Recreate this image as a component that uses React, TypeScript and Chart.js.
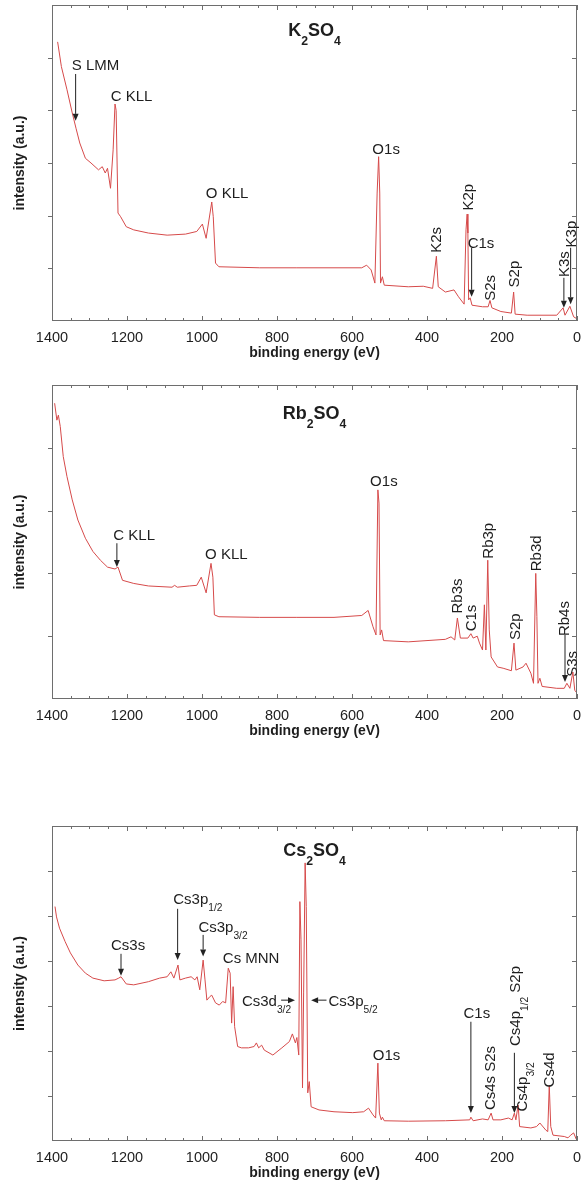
import { useEffect, useRef } from 'react';
import { Chart, registerables } from 'chart.js';

Chart.register(...registerables);

const FONT = '"Liberation Sans", Arial, Helvetica, sans-serif';
const LINE_COLOR = '#d64a4a';
const TEXT_COLOR = '#1e1e1e';
const FRAME_COLOR = '#6e6e6e';

// x tick labels (binding energy, eV)
const energyTicks = [1400, 1200, 1000, 800, 600, 400, 200, 0];

// ---------- K2SO4 spectrum ----------
const k2so4Energy = [
  1385, 1375, 1360, 1346, 1336, 1326, 1311, 1296, 1276, 1266,
  1258, 1252, 1244, 1237, 1232, 1229, 1224, 1217, 1202, 1182,
  1143, 1093, 1044, 1014, 999, 989, 974, 970, 964, 955,
  846, 747, 648, 574, 561, 549, 539, 533, 529, 526,
  524, 519, 514, 450, 410, 385, 375, 370, 351, 328,
  316, 301, 296, 293, 291, 289, 285, 280, 252, 237,
  232, 227, 203, 175, 169, 165, 133, 54, 37, 32,
  19, 9, 2,
];
const k2so4Intensity = [
  5.30, 4.83, 4.39, 3.95, 3.66, 3.38, 3.09, 3.00, 2.87, 2.93,
  2.81, 2.90, 2.52, 3.25, 4.12, 4.00, 2.05, 1.98, 1.79, 1.73,
  1.67, 1.63, 1.65, 1.70, 1.84, 1.57, 2.26, 1.98, 1.10, 1.03,
  1.01, 1.01, 1.01, 1.01, 1.06, 0.97, 0.72, 2.43, 3.12, 2.43,
  0.72, 0.84, 0.68, 0.65, 0.66, 0.62, 1.23, 0.65, 0.55, 0.59,
  0.46, 0.32, 1.73, 2.03, 1.67, 0.40, 0.44, 0.30, 0.27, 0.27,
  0.39, 0.25, 0.18, 0.15, 0.55, 0.13, 0.11, 0.11, 0.25, 0.11,
  0.28, 0.08, 0.05,
];

// ---------- Rb2SO4 spectrum ----------
const rb2so4Energy = [
  1393, 1387, 1383, 1378, 1370, 1360, 1346, 1331, 1311, 1291,
  1271, 1252, 1232, 1224, 1212, 1182, 1143, 1080, 1073, 1066,
  1034, 1014, 1002, 989, 976, 971, 967, 955, 846, 747,
  648, 574, 557, 544, 536, 531, 528, 525, 521, 516,
  450, 351, 336, 326, 319, 311, 291, 283, 277, 266,
  260, 252, 247, 243, 238, 234, 229, 212, 197, 175,
  168, 163, 144, 136, 123, 116, 110, 107, 104, 99,
  93, 54, 34, 27, 19, 11, 6, 1,
];
const rb2so4Intensity = [
  4.71, 4.44, 4.52, 4.34, 3.86, 3.54, 3.17, 2.85, 2.56, 2.35,
  2.21, 2.10, 2.07, 2.10, 1.89, 1.84, 1.80, 1.78, 1.81, 1.78,
  1.80, 1.81, 1.94, 1.69, 2.16, 1.94, 1.34, 1.31, 1.30, 1.30,
  1.30, 1.33, 1.41, 1.15, 1.02, 3.33, 3.12, 1.02, 1.10, 0.93,
  0.91, 0.95, 0.99, 0.94, 1.29, 0.97, 0.97, 1.04, 0.97, 1.00,
  0.89, 0.78, 1.50, 0.78, 2.21, 1.10, 0.67, 0.51, 0.49, 0.45,
  0.89, 0.46, 0.51, 0.57, 0.41, 0.25, 2.00, 1.31, 0.25, 0.33,
  0.20, 0.17, 0.17, 0.25, 0.17, 0.43, 0.14, 0.10,
];

// ---------- Cs2SO4 spectrum ----------
const cs2so4Energy = [
  1392, 1388, 1380, 1365, 1351, 1331, 1311, 1291, 1261, 1232,
  1222, 1216, 1202, 1182, 1143, 1113, 1093, 1083, 1075, 1064,
  1059, 1044, 1029, 1019, 1013, 1006, 997, 992, 987, 979,
  974, 964, 954, 945, 937, 930, 925, 921, 917, 913,
  905, 895, 876, 861, 855, 849, 841, 834, 811, 787,
  767, 759, 751, 747, 742, 739, 736, 732, 729, 725,
  722, 718, 714, 709, 688, 648, 598, 569, 556, 544,
  537, 531, 527, 522, 519, 514, 450, 351, 286, 283,
  277, 252, 237, 229, 224, 203, 183, 173, 167, 163,
  157, 153, 123, 108, 99, 83, 78, 74, 70, 64,
  34, 24, 17, 9, 2,
];
const cs2so4Intensity = [
  5.21, 4.98, 4.73, 4.43, 4.18, 3.91, 3.73, 3.62, 3.56, 3.58,
  3.62, 3.65, 3.49, 3.47, 3.54, 3.62, 3.65, 3.76, 3.62, 3.91,
  3.58, 3.62, 3.65, 3.58, 3.65, 3.36, 4.02, 3.58, 3.13, 3.21,
  3.24, 3.07, 3.02, 3.10, 3.07, 3.84, 3.73, 2.62, 3.43, 2.54,
  2.10, 2.07, 2.07, 2.10, 2.18, 2.07, 2.13, 2.02, 1.91, 2.07,
  2.21, 2.38, 2.18, 2.30, 1.91, 5.32, 4.47, 1.18, 3.29, 6.18,
  5.21, 1.07, 1.32, 0.76, 0.69, 0.65, 0.63, 0.65, 0.73, 0.58,
  0.51, 1.73, 0.62, 0.47, 0.53, 0.45, 0.44, 0.45, 0.47, 0.53,
  0.45, 0.49, 0.47, 0.62, 0.47, 0.47, 0.51, 0.47, 0.62, 0.47,
  0.80, 0.32, 0.29, 0.32, 0.40, 0.24, 0.21, 1.24, 0.32, 0.13,
  0.10, 0.07, 0.13, 0.18, 0.04,
];

type Seg = { t: string; sub?: boolean };
type Note = {
  segs: Seg[];
  x: number;
  y: number;
  vertical?: boolean;
  arrow?: [number, number, number, number];
};

const k2so4Title: Seg[] = [{ t: 'K' }, { t: '2', sub: true }, { t: 'SO' }, { t: '4', sub: true }];
const rb2so4Title: Seg[] = [{ t: 'Rb' }, { t: '2', sub: true }, { t: 'SO' }, { t: '4', sub: true }];
const cs2so4Title: Seg[] = [{ t: 'Cs' }, { t: '2', sub: true }, { t: 'SO' }, { t: '4', sub: true }];

const k2so4Notes: Note[] = [
  { segs: [{ t: 'S LMM' }], x: 1284, y: 4.86, arrow: [1337, 4.69, 1337, 3.8] },
  { segs: [{ t: 'C KLL' }], x: 1188, y: 4.27 },
  { segs: [{ t: 'O KLL' }], x: 933, y: 2.43 },
  { segs: [{ t: 'O1s' }], x: 509, y: 3.28 },
  { segs: [{ t: 'K2s' }], x: 376, y: 1.54, vertical: true },
  { segs: [{ t: 'K2p' }], x: 292, y: 2.35, vertical: true },
  { segs: [{ t: 'C1s' }], x: 256, y: 1.49, arrow: [281, 1.39, 281, 0.46] },
  { segs: [{ t: 'S2s' }], x: 232, y: 0.63, vertical: true },
  { segs: [{ t: 'S2p' }], x: 169, y: 0.89, vertical: true },
  { segs: [{ t: 'K3s' }], x: 36, y: 1.08, vertical: true, arrow: [35, 0.82, 35, 0.25] },
  { segs: [{ t: 'K3p' }], x: 17, y: 1.65, vertical: true, arrow: [17, 1.39, 17, 0.32] },
];

const rb2so4Notes: Note[] = [
  { segs: [{ t: 'C KLL' }], x: 1181, y: 2.61, arrow: [1227, 2.48, 1227, 2.1] },
  { segs: [{ t: 'O KLL' }], x: 935, y: 2.31 },
  { segs: [{ t: 'O1s' }], x: 515, y: 3.47 },
  { segs: [{ t: 'Rb3s' }], x: 321, y: 1.64, vertical: true },
  { segs: [{ t: 'C1s' }], x: 283, y: 1.29, vertical: true },
  { segs: [{ t: 'Rb3p' }], x: 238, y: 2.52, vertical: true },
  { segs: [{ t: 'S2p' }], x: 165, y: 1.15, vertical: true },
  { segs: [{ t: 'Rb3d' }], x: 110, y: 2.32, vertical: true },
  { segs: [{ t: 'Rb4s' }], x: 35, y: 1.28, vertical: true, arrow: [32, 1.02, 32, 0.27] },
  { segs: [{ t: 'S3s' }], x: 14, y: 0.56, vertical: true },
];

const cs2so4Notes: Note[] = [
  { segs: [{ t: 'Cs3s' }], x: 1197, y: 4.37, arrow: [1216, 4.16, 1216, 3.67] },
  { segs: [{ t: 'Cs3p' }, { t: '1/2', sub: true }], x: 1011, y: 5.39, arrow: [1065, 5.16, 1065, 4.02] },
  { segs: [{ t: 'Cs3p' }, { t: '3/2', sub: true }], x: 944, y: 4.76, arrow: [997, 4.58, 997, 4.1] },
  { segs: [{ t: 'Cs MNN' }], x: 869, y: 4.07 },
  { segs: [{ t: 'Cs3d' }, { t: '3/2', sub: true }], x: 828, y: 3.13, arrow: [789, 3.13, 752, 3.13] },
  { segs: [{ t: 'Cs3p' }, { t: '5/2', sub: true }], x: 597, y: 3.13, arrow: [668, 3.13, 709, 3.13] },
  { segs: [{ t: 'O1s' }], x: 508, y: 1.91 },
  { segs: [{ t: 'C1s' }], x: 267, y: 2.85, arrow: [283, 2.65, 283, 0.62] },
  { segs: [{ t: 'Cs4s S2s' }], x: 232, y: 1.4, vertical: true },
  { segs: [{ t: 'Cs4p' }, { t: '1/2', sub: true }, { t: ' S2p' }], x: 165, y: 3.0, vertical: true, arrow: [167, 1.96, 167, 0.62] },
  { segs: [{ t: 'Cs4p' }, { t: '3/2', sub: true }], x: 147, y: 1.2, vertical: true },
  { segs: [{ t: 'Cs4d' }], x: 75, y: 1.58, vertical: true },
];

type PanelCfg = {
  top: number;
  height: number;
  padTop: number;
  padBottom: number;
  yMax: number;
  energy: number[];
  intensity: number[];
  title: Seg[];
  titleOffset: number;
  notes: Note[];
};

const panels: PanelCfg[] = [
  { top: 0, height: 365, padTop: 5, padBottom: 3, yMax: 6, energy: k2so4Energy, intensity: k2so4Intensity, title: k2so4Title, titleOffset: 25, notes: k2so4Notes },
  { top: 365, height: 383, padTop: 20, padBottom: 8, yMax: 5, energy: rb2so4Energy, intensity: rb2so4Intensity, title: rb2so4Title, titleOffset: 28, notes: rb2so4Notes },
  { top: 800, height: 387, padTop: 26, padBottom: 5, yMax: 7, energy: cs2so4Energy, intensity: cs2so4Intensity, title: cs2so4Title, titleOffset: 24, notes: cs2so4Notes },
];

function drawSegs(
  ctx: CanvasRenderingContext2D,
  segs: Seg[],
  cx: number,
  cy: number,
  vertical: boolean,
  size: number,
  weight: string,
) {
  ctx.save();
  ctx.translate(cx, cy);
  if (vertical) ctx.rotate(-Math.PI / 2);
  const mainFont = `${weight} ${size}px ${FONT}`;
  const subFont = `${weight} ${size * 0.68}px ${FONT}`;
  const widths = segs.map((s) => {
    ctx.font = s.sub ? subFont : mainFont;
    return ctx.measureText(s.t).width;
  });
  const total = widths.reduce((a, b) => a + b, 0);
  let x = -total / 2;
  ctx.textBaseline = 'alphabetic';
  ctx.textAlign = 'left';
  ctx.fillStyle = TEXT_COLOR;
  const base = size * 0.358;
  segs.forEach((s, i) => {
    ctx.font = s.sub ? subFont : mainFont;
    ctx.fillText(s.t, x, base + (s.sub ? size * 0.48 : 0));
    x += widths[i];
  });
  ctx.restore();
}

function drawArrow(ctx: CanvasRenderingContext2D, x1: number, y1: number, x2: number, y2: number) {
  const ang = Math.atan2(y2 - y1, x2 - x1);
  const head = 7;
  const half = 3;
  ctx.save();
  ctx.strokeStyle = '#222';
  ctx.fillStyle = '#222';
  ctx.lineWidth = 1;
  ctx.beginPath();
  ctx.moveTo(x1, y1);
  ctx.lineTo(x2 - Math.cos(ang) * head, y2 - Math.sin(ang) * head);
  ctx.stroke();
  ctx.beginPath();
  ctx.moveTo(x2, y2);
  ctx.lineTo(x2 - Math.cos(ang) * head - Math.sin(ang) * half, y2 - Math.sin(ang) * head + Math.cos(ang) * half);
  ctx.lineTo(x2 - Math.cos(ang) * head + Math.sin(ang) * half, y2 - Math.sin(ang) * head - Math.cos(ang) * half);
  ctx.closePath();
  ctx.fill();
  ctx.restore();
}

function makeDecor(cfg: PanelCfg) {
  return {
    id: 'decor',
    afterDatasetsDraw(chart: any) {
      const { ctx, chartArea } = chart;
      const xs = chart.scales.x;
      const ys = chart.scales.y;
      const { left, right, top, bottom } = chartArea;
      ctx.save();
      // frame
      ctx.strokeStyle = FRAME_COLOR;
      ctx.lineWidth = 1;
      ctx.strokeRect(left + 0.5, top + 0.5, right - left - 1, bottom - top - 1);
      // x ticks (inward, top and bottom)
      for (let v = 0; v <= 1400; v += 50) {
        const px = Math.round(xs.getPixelForValue(v)) + 0.5;
        const len = v % 200 === 0 ? 5 : 3;
        ctx.beginPath();
        ctx.moveTo(px, bottom);
        ctx.lineTo(px, bottom - len);
        ctx.moveTo(px, top);
        ctx.lineTo(px, top + len);
        ctx.stroke();
      }
      // y ticks
      for (let i = 1; i < cfg.yMax; i++) {
        const py = Math.round(ys.getPixelForValue(i)) + 0.5;
        ctx.beginPath();
        ctx.moveTo(left, py);
        ctx.lineTo(left - 4, py);
        ctx.moveTo(right, py);
        ctx.lineTo(right - 5, py);
        ctx.stroke();
      }
      ctx.restore();
      // title
      drawSegs(ctx, cfg.title, (left + right) / 2, top + cfg.titleOffset, false, 18, 'bold');
      // annotations
      cfg.notes.forEach((n) => {
        const px = xs.getPixelForValue(n.x);
        const py = ys.getPixelForValue(n.y);
        drawSegs(ctx, n.segs, px, py, !!n.vertical, 15, 'normal');
        if (n.arrow) {
          const [ax1, ay1, ax2, ay2] = n.arrow;
          drawArrow(
            ctx,
            xs.getPixelForValue(ax1),
            ys.getPixelForValue(ay1),
            xs.getPixelForValue(ax2),
            ys.getPixelForValue(ay2),
          );
        }
      });
    },
  };
}

function Panel({ cfg }: { cfg: PanelCfg }) {
  const ref = useRef<HTMLCanvasElement | null>(null);
  useEffect(() => {
    if (!ref.current) return;
    const chart = new Chart(ref.current, {
      type: 'line',
      data: {
        datasets: [
          {
            data: cfg.energy.map((e, i) => ({ x: e, y: cfg.intensity[i] })),
            borderColor: LINE_COLOR,
            borderWidth: 1,
            pointRadius: 0,
            tension: 0,
            fill: false,
          },
        ],
      },
      options: {
        responsive: false,
        animation: false,
        events: [],
        layout: { padding: { left: 0, right: 5, top: cfg.padTop, bottom: cfg.padBottom } },
        plugins: {
          legend: { display: false },
          tooltip: { enabled: false },
          title: { display: false },
        },
        scales: {
          x: {
            type: 'linear',
            reverse: true,
            min: 0,
            max: 1400,
            grid: { display: false, drawTicks: true, tickLength: 8 },
            border: { display: false },
            afterBuildTicks: (s: any) => {
              s.ticks = energyTicks.map((v) => ({ value: v }));
            },
            ticks: {
              autoSkip: false,
              maxRotation: 0,
              padding: 0,
              color: TEXT_COLOR,
              font: { family: FONT, size: 14.5 },
              callback: (v: any) => String(v),
            },
            title: {
              display: true,
              text: 'binding energy (eV)',
              color: TEXT_COLOR,
              font: { family: FONT, size: 14, weight: 'bold' },
              padding: { top: 0, bottom: 0 },
            },
            afterFit: (s: any) => {
              s.height = 41;
            },
          },
          y: {
            type: 'linear',
            min: 0,
            max: cfg.yMax,
            grid: { display: false },
            border: { display: false },
            ticks: { display: false },
            title: {
              display: true,
              text: 'intensity (a.u.)',
              color: TEXT_COLOR,
              font: { family: FONT, size: 14, weight: 'bold' },
              padding: { top: 11.6, bottom: 0 },
            },
            afterFit: (s: any) => {
              s.width = 52;
            },
          },
        },
      },
      plugins: [makeDecor(cfg)],
    } as any);
    return () => chart.destroy();
  }, [cfg]);
  return (
    <canvas
      ref={ref}
      width={582}
      height={cfg.height}
      style={{ position: 'absolute', left: 0, top: cfg.top, width: 582, height: cfg.height, display: 'block' }}
    />
  );
}

export default function App() {
  return (
    <div style={{ position: 'absolute', left: 0, top: 0, width: 582, height: 1187, background: '#fff' }}>
      {panels.map((p, i) => (
        <Panel key={i} cfg={p} />
      ))}
    </div>
  );
}
